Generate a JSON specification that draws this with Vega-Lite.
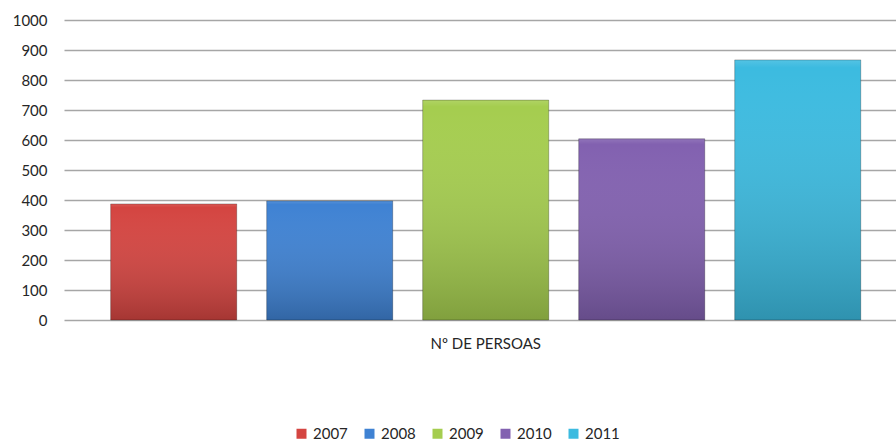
{
  "$schema": "https://vega.github.io/schema/vega-lite/v6.json",
  "width": 832,
  "height": 300,
  "autosize": {"type": "none"},
  "padding": {"left": 64, "top": 20, "right": 0, "bottom": 121},
  "background": "#ffffff",
  "config": {
    "view": {"stroke": null},
    "font": "Lato",
    "axis": {"labelFont": "Lato", "labelColor": "#262626", "labelFontSize": 15}
  },
  "data": {
    "values": [
      {"cat": "Nº DE PERSOAS", "year": "2007", "value": 387},
      {"cat": "Nº DE PERSOAS", "year": "2008", "value": 397},
      {"cat": "Nº DE PERSOAS", "year": "2009", "value": 733},
      {"cat": "Nº DE PERSOAS", "year": "2010", "value": 604},
      {"cat": "Nº DE PERSOAS", "year": "2011", "value": 867}
    ]
  },
  "encoding": {
    "x": {
      "field": "cat",
      "type": "nominal",
      "scale": {"paddingInner": 0, "paddingOuter": 0.0333, "align": 0.61},
      "axis": {"title": null, "domain": false, "ticks": false, "labelAngle": 0, "labelPadding": 16, "labelFontSize": 15}
    },
    "xOffset": {
      "field": "year",
      "type": "nominal",
      "scale": {"paddingInner": 0.192, "paddingOuter": 0.096}
    },
    "y": {
      "field": "value",
      "type": "quantitative",
      "scale": {"domain": [0, 1000], "nice": false},
      "axis": {
        "title": null,
        "format": "d",
        "values": [0, 100, 200, 300, 400, 500, 600, 700, 800, 900, 1000],
        "domain": false,
        "ticks": false,
        "labelPadding": 17,
        "grid": true,
        "gridColor": "#a6a6a6",
        "gridWidth": 1.5
      }
    }
  },
  "layer": [
    {
      "mark": {"type": "bar", "strokeWidth": 1},
      "encoding": {
        "color": {
          "field": "year",
          "type": "nominal",
          "scale": {
            "domain": ["2007", "2008", "2009", "2010", "2011"],
            "range": ["#d44541", "#3f82d3", "#a5cd4f", "#8261b0", "#3cbbe0"]
          },
          "legend": {
            "title": null,
            "orient": "none",
            "direction": "horizontal",
            "legendX": 230,
            "legendY": 406,
            "symbolType": "square",
            "symbolSize": 100,
            "symbolStrokeWidth": 0,
            "labelFont": "Lato",
            "labelFontSize": 15,
            "labelColor": "#262626",
            "labelOffset": 4,
            "columnPadding": 14
          }
        }
      }
    },
    {
      "mark": {
        "type": "bar",
        "stroke": "rgba(0,0,0,0.25)",
        "strokeWidth": 1,
        "color": {
          "gradient": "linear",
          "x1": 0, "y1": 0, "x2": 0, "y2": 1,
          "stops": [
            {"offset": 0, "color": "rgba(255,255,255,0.12)"},
            {"offset": 0.03, "color": "rgba(255,255,255,0.0)"},
            {"offset": 1, "color": "rgba(0,0,0,0.22)"}
          ]
        }
      },
      "encoding": {}
    }
  ]
}
